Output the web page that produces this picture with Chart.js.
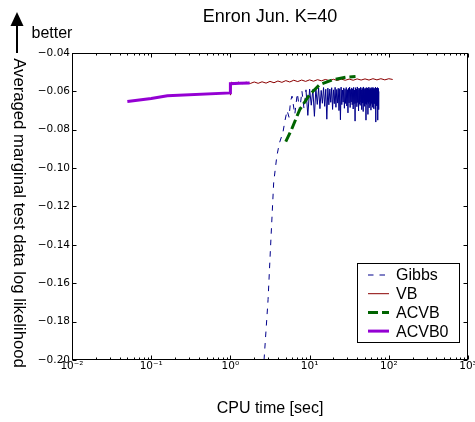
<!DOCTYPE html>
<html>
<head>
<meta charset="utf-8">
<title>Enron Jun. K=40</title>
<script src="https://cdn.jsdelivr.net/npm/chart.js@4.4.0/dist/chart.umd.min.js"></script>
<style>
  html, body { margin: 0; padding: 0; background: #fff; }
</style>
</head>
<body>
<canvas id="chart" width="475" height="422"></canvas>
<script>
// ---- data ----
const seriesNames = ['Gibbs', 'VB', 'ACVB', 'ACVB0'];

// Gibbs: steep start, then noisy plateau
const gibbsTime = [
  2.66, 2.99, 3.2, 3.52, 3.85, 4.15, 4.6, 4.9, 5.2, 5.5, 5.75,
  6, 6.5, 7, 7.5, 8, 8.5, 9, 9.5, 10, 10.5,
  11, 11.5, 12, 12.5, 13, 13.5, 14, 14.5, 15, 15.5,
  16, 16.5, 17, 17.5, 18, 18.5, 19, 19.5, 20, 20.5,
  21, 21.5, 22, 22.5, 23, 23.5, 24, 24.5, 25, 25.5,
  26, 26.5, 27, 27.5, 28, 28.5, 29, 29.5, 30, 30.5,
  31, 31.5, 32, 32.5, 33, 33.5, 34, 34.5, 35, 35.5,
  36, 36.5, 37, 37.5, 38, 38.5, 39, 39.5, 40, 40.5,
  41, 41.5, 42, 42.5, 43, 43.5, 44, 44.5, 45, 45.5,
  46, 46.5, 47, 47.5, 48, 48.5, 49, 49.5, 50, 50.5,
  51, 51.5, 52, 52.5, 53, 53.5, 54, 54.5, 55, 55.5,
  56, 56.5, 57, 57.5, 58, 58.5, 59, 59.5, 60, 60.5,
  61, 61.5, 62, 62.5, 63, 63.5, 64, 64.5, 65, 65.5,
  66, 66.5, 67, 67.5, 68, 68.5, 69, 69.5, 70, 70.5,
  71, 71.5, 72, 72.5, 73, 73.5, 74, 74.5, 75
];
const gibbsValue = [
  -0.2000, -0.1685, -0.1425, -0.1075, -0.0940, -0.0870, -0.0815, -0.0750, -0.0700, -0.0735, -0.0650,
  -0.0625, -0.0720, -0.0610, -0.0700, -0.0598, -0.0690, -0.0592, -0.0725, -0.0588, -0.0672,
  -0.0590, -0.0730, -0.0585, -0.0668, -0.0582, -0.0690, -0.0595, -0.0662, -0.0580, -0.0678,
  -0.0589, -0.0745, -0.0583, -0.0670, -0.0588, -0.0657, -0.0581, -0.0694, -0.0592, -0.0664,
  -0.0579, -0.0683, -0.0590, -0.0661, -0.0584, -0.0700, -0.0586, -0.0748, -0.0578, -0.0669,
  -0.0593, -0.0656, -0.0582, -0.0688, -0.0589, -0.0663, -0.0580, -0.0676, -0.0591, -0.0712,
  -0.0584, -0.0660, -0.0578, -0.0684, -0.0590, -0.0655, -0.0582, -0.0670, -0.0587, -0.0692,
  -0.0579, -0.0664, -0.0593, -0.0755, -0.0581, -0.0662, -0.0588, -0.0680, -0.0577, -0.0658,
  -0.0591, -0.0702, -0.0583, -0.0666, -0.0586, -0.0673, -0.0579, -0.0656, -0.0592, -0.0695,
  -0.0581, -0.0661, -0.0588, -0.0705, -0.0577, -0.0659, -0.0590, -0.0678, -0.0584, -0.0664,
  -0.0586, -0.0750, -0.0580, -0.0668, -0.0593, -0.0657, -0.0582, -0.0720, -0.0589, -0.0663,
  -0.0578, -0.0686, -0.0591, -0.0654, -0.0583, -0.0674, -0.0587, -0.0698, -0.0580, -0.0661,
  -0.0592, -0.0667, -0.0584, -0.0683, -0.0579, -0.0657, -0.0588, -0.0690, -0.0582, -0.0665,
  -0.0590, -0.0660, -0.0585, -0.0693, -0.0578, -0.0760, -0.0591, -0.0668, -0.0583, -0.0676,
  -0.0587, -0.0662, -0.0580, -0.0750, -0.0589, -0.0670, -0.0584, -0.0695, -0.0600
];

const vbTime = [
  1.0, 1.03, 1.12, 1.26, 1.41, 1.58, 1.78, 2.0, 2.24, 2.51, 2.82,
  3.16, 3.55, 3.98, 4.47, 5.01, 5.62, 6.31, 7.08, 7.94, 8.91,
  10, 11.2, 12.6, 14.1, 15.8, 17.8, 20, 22.4, 25.1, 28.2,
  31.6, 35.5, 39.8, 44.7, 50.1, 56.2, 63.1, 70.8, 79.4, 89.1,
  100, 112
];
const vbValue = [
  -0.0620, -0.0552, -0.0560, -0.0552, -0.0560, -0.0552, -0.0559, -0.0551, -0.0558, -0.0550, -0.0557,
  -0.0548, -0.0555, -0.0546, -0.0553, -0.0544, -0.0551, -0.0542, -0.0549, -0.0541, -0.0548,
  -0.0540, -0.0547, -0.0539, -0.0545, -0.0538, -0.0544, -0.0537, -0.0543, -0.0536, -0.0542,
  -0.0536, -0.0542, -0.0535, -0.0541, -0.0535, -0.0541, -0.0534, -0.0540, -0.0534, -0.0540,
  -0.0534, -0.0538
];

const acvbTime  = [5.0, 5.9, 7.5, 10, 13.4, 19.7, 29, 38];
const acvbValue = [-0.0862, -0.0800, -0.0695, -0.0617, -0.0565, -0.0539, -0.0526, -0.0522];

const acvb0Time  = [0.05, 0.1, 0.16, 1.0, 1.0, 1.3, 1.75];
const acvb0Value = [-0.0653, -0.0637, -0.0623, -0.0608, -0.0560, -0.0558, -0.0556];

// ---- axes ----
const xMajorTicks = [0.01, 0.1, 1, 10, 100, 1000];
const xTickLabels = ['10\u207B\u00B2', '10\u207B\u00B9', '10\u2070', '10\u00B9', '10\u00B2', '10\u00B3'];
const xMinorSteps = [2, 3, 4, 5, 6, 7, 8, 9];
const yTicks = [-0.20, -0.18, -0.16, -0.14, -0.12, -0.10, -0.08, -0.06, -0.04];

const titleText = 'Enron Jun. K=40';
const xTitle = 'CPU time [sec]';
const yTitle = 'Averaged marginal test data log likelihood';

const SANS = '"Liberation Sans", Arial, Helvetica, sans-serif';
const TICKFONT = '"DejaVu Sans", sans-serif';

const xTickValues = [];
xMajorTicks.forEach((d, i) => {
  xTickValues.push(d);
  if (i < xMajorTicks.length - 1) xMinorSteps.forEach(m => xTickValues.push(d * m));
});

function pairs(t, v) {
  return t.map((x, i) => ({ x: x, y: v[i] }));
}

// frame with inward ticks, legend, rotated y label, "better" arrow
const decorPlugin = {
  id: 'decor',
  beforeDraw(chart) {
    const ctx = chart.ctx;
    ctx.save();
    ctx.fillStyle = '#fff';
    ctx.fillRect(0, 0, chart.width, chart.height);
    ctx.restore();
  },
  afterDraw(chart) {
    const { ctx, chartArea: a, scales } = chart;
    const x = scales.x, y = scales.y;
    const L = Math.round(a.left) + 0.5, R = Math.round(a.right) - 0.5;
    const T = Math.round(a.top) + 0.5, B = Math.round(a.bottom) - 0.5;
    const seg = (x1, y1, x2, y2) => { ctx.beginPath(); ctx.moveTo(x1, y1); ctx.lineTo(x2, y2); ctx.stroke(); };

    ctx.save();
    ctx.strokeStyle = '#000';
    ctx.lineWidth = 1;
    ctx.strokeRect(L, T, R - L, B - T);

    x.ticks.forEach(t => {
      const px = Math.round(x.getPixelForValue(t.value)) + 0.5;
      const len = xMajorTicks.includes(t.value) ? 4 : 2;
      seg(px, B, px, B - len);
      seg(px, T, px, T + len);
    });
    y.ticks.forEach(t => {
      const py = Math.round(y.getPixelForValue(t.value)) + 0.5;
      seg(L, py, L + 4, py);
      seg(R, py, R - 4, py);
    });

    // legend
    const lx = 357, ly = 263, lw = 102, lh = 79;
    ctx.fillStyle = '#fff';
    ctx.fillRect(lx, ly, lw, lh);
    ctx.strokeRect(lx + 0.5, ly + 0.5, lw, lh);
    ctx.font = '16px ' + SANS;
    ctx.textBaseline = 'middle';
    ctx.textAlign = 'left';
    chart.data.datasets.forEach((ds, i) => {
      const cy = ly + 12 + i * 18.7;
      ctx.save();
      ctx.strokeStyle = ds.borderColor;
      ctx.lineWidth = ds.borderWidth;
      ctx.setLineDash(ds.borderDash || []);
      seg(368, cy, 389, cy);
      ctx.restore();
      ctx.fillStyle = '#000';
      ctx.fillText(ds.label, 396, cy + 1);
    });

    // y title, reading top to bottom
    ctx.save();
    ctx.translate(13.5, 213);
    ctx.rotate(Math.PI / 2);
    ctx.font = '16.7px ' + SANS;
    ctx.fillStyle = '#000';
    ctx.textAlign = 'center';
    ctx.textBaseline = 'alphabetic';
    ctx.fillText(yTitle, 0, 0);
    ctx.restore();

    // "better" arrow
    ctx.lineWidth = 2;
    seg(17, 53, 17, 24);
    ctx.fillStyle = '#000';
    ctx.beginPath();
    ctx.moveTo(17, 12);
    ctx.lineTo(10.5, 26);
    ctx.lineTo(23.5, 26);
    ctx.closePath();
    ctx.fill();
    ctx.font = '16px ' + SANS;
    ctx.textAlign = 'left';
    ctx.textBaseline = 'alphabetic';
    ctx.fillText('better', 31.5, 37.5);
    ctx.restore();
  }
};

new Chart(document.getElementById('chart'), {
  type: 'line',
  data: {
    datasets: [
      { label: seriesNames[0], data: pairs(gibbsTime, gibbsValue), borderColor: '#00008b',
        borderWidth: 1, borderDash: [5.5, 6], order: 4,
        // the dashes merge into a solid band where the samples are dense
        segment: { borderDash: c => (c.p0.parsed.x >= 9 ? [] : undefined) } },
      { label: seriesNames[1], data: pairs(vbTime, vbValue), borderColor: '#8b0000',
        borderWidth: 1, order: 3 },
      { label: seriesNames[2], data: pairs(acvbTime, acvbValue), borderColor: '#006400',
        borderWidth: 3, borderDash: [10, 4], order: 2 },
      { label: seriesNames[3], data: pairs(acvb0Time, acvb0Value), borderColor: '#9400d3',
        borderWidth: 3, order: 1 }
    ]
  },
  options: {
    responsive: false,
    animation: false,
    events: [],
    elements: {
      point: { radius: 0 },
      line: { tension: 0, fill: false, borderCapStyle: 'butt' }
    },
    layout: { padding: { left: 0, right: 7, top: 0, bottom: 0 } },
    plugins: {
      legend: { display: false },
      tooltip: { enabled: false },
      title: {
        display: true, text: titleText, fullSize: false, color: '#000',
        font: { family: SANS, size: 18, weight: 'normal' },
        padding: { top: 6, bottom: 25.4 }
      }
    },
    scales: {
      x: {
        type: 'logarithmic', min: 0.01, max: 1000,
        grid: { display: false, drawTicks: false },
        border: { display: false },
        afterBuildTicks: s => { s.ticks = xTickValues.map(v => ({ value: v })); },
        afterFit: s => { s.height = 62; s.paddingLeft = 0; s.paddingRight = 0; },
        ticks: {
          autoSkip: false, maxRotation: 0, minRotation: 0, padding: 0, color: '#000',
          font: { family: TICKFONT, size: 10.5 },
          callback: v => {
            const i = xMajorTicks.indexOf(v);
            return i >= 0 ? xTickLabels[i] : '';
          }
        },
        title: {
          display: true, text: xTitle, color: '#000',
          font: { family: SANS, size: 16, weight: 'normal' },
          padding: { top: 0, bottom: 4 }
        }
      },
      y: {
        type: 'linear', min: -0.2, max: -0.04,
        grid: { display: false, drawTicks: false },
        border: { display: false },
        afterBuildTicks: s => { s.ticks = yTicks.map(v => ({ value: v })); },
        afterFit: s => { s.width = 72; s.paddingTop = 0; s.paddingBottom = 0; },
        ticks: {
          padding: 2, color: '#000',
          font: { family: TICKFONT, size: 10.5 },
          callback: v => v.toFixed(2).replace('-', '\u2212')
        }
      }
    }
  },
  plugins: [decorPlugin]
});
</script>
</body>
</html>
